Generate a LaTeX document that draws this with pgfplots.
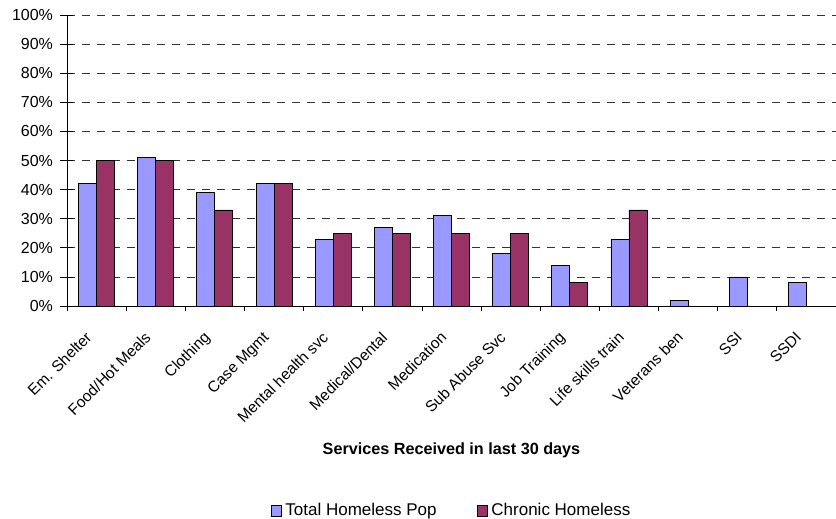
\documentclass[border=0pt]{standalone}
\usepackage{pgfplots}
\pgfplotsset{compat=1.18}
\usepackage{fontspec}
\setmainfont{Liberation Sans}
\definecolor{tblue}{HTML}{9999FF}
\definecolor{cmaroon}{HTML}{993366}
\begin{document}
\fontsize{16pt}{19pt}\selectfont
\begin{tikzpicture}
\useasboundingbox (-67pt,-213pt) rectangle (769pt,306pt);
\begin{axis}[
  at={(0,0)}, anchor=south west,
  scale only axis, width=769pt, height=291pt,
  xmin=-0.5, xmax=12.5, ymin=0, ymax=100,
  axis x line*=bottom, axis y line*=left,
  axis line style={-, black, line width=0.8pt},
  ybar=0pt, bar width=18pt,
  /pgf/number format/assume math mode=true,
  ytick={0,10,...,100},
  yticklabel={\pgfmathprintnumber{\tick}\%},
  y tick label style={font=\fontsize{16pt}{19pt}\selectfont, xshift=-2pt},
  ytick align=center, major tick length=13pt,
  ymajorgrids,
  major grid style={dash pattern=on 8pt off 7pt, black!80, line width=0.8pt},
  xtick={0,...,12},
  xticklabels={Em. Shelter, Food/Hot Meals, Clothing, Case Mgmt, Mental health svc, Medical/Dental, Medication, Sub Abuse Svc, Job Training, Life skills train, Veterans ben, SSI, SSDI},
  x tick label style={font=\fontsize{15.5pt}{19pt}\selectfont, xshift=-12pt, yshift=-10pt, rotate=45, anchor=north east, inner sep=1pt},
  x tick style={draw=none},
  extra x ticks={-0.5,0.5,...,12.5},
  extra x tick labels={},
  extra x tick style={grid=none, tick align=outside, major tick length=5pt, x tick style={draw=black, line width=0.8pt}},
  y tick style={black, line width=0.8pt},
  xlabel={Services Received in last 30 days},
  xlabel style={at={(axis description cs:0.5,-0.4948)}, anchor=center, font=\bfseries\fontsize{16.2pt}{19pt}\selectfont},
  legend columns=2,
  legend style={at={(axis description cs:0.5,-0.7045)}, anchor=center, draw=none, font=\fontsize{17pt}{20pt}\selectfont,
    /tikz/every odd column/.append style={column sep=2pt},
    /tikz/every even column/.append style={column sep=38pt}},
  legend image code/.code={\draw[#1, line width=0.8pt] (0pt,-5.5pt) rectangle (10pt,5.5pt);},
]
\addplot[fill=tblue, draw=black, line width=0.8pt] coordinates {
  (0,42) (1,51) (2,39) (3,42) (4,23) (5,27) (6,31) (7,18) (8,14) (9,23) (10,2) (11,10) (12,8)};
\addplot[fill=cmaroon, draw=black, line width=0.8pt] coordinates {
  (0,50) (1,50) (2,33) (3,42) (4,25) (5,25) (6,25) (7,25) (8,8) (9,33)};
\legend{Total Homeless Pop, Chronic Homeless}
\end{axis}
\end{tikzpicture}
\end{document}
